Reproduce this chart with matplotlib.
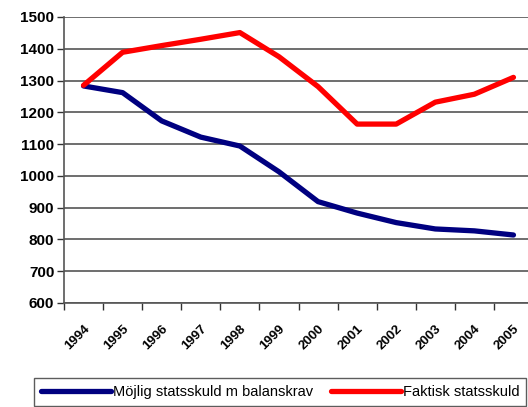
import matplotlib
matplotlib.use("Agg")
import matplotlib.pyplot as plt
from matplotlib.ticker import FixedLocator
import matplotlib.transforms as mtransforms

years = ["1994", "1995", "1996", "1997", "1998", "1999", "2000", "2001", "2002", "2003", "2004", "2005"]
mojlig = [1283, 1262, 1173, 1122, 1094, 1013, 919, 883, 853, 833, 827, 814]
faktisk = [1285, 1389, 1410, 1430, 1451, 1375, 1281, 1163, 1163, 1232, 1257, 1310]

plt.rcParams['font.family'] = ['Liberation Sans', 'DejaVu Sans']

fig = plt.figure(figsize=(5.28, 4.07), dpi=100)
ax = fig.add_axes([64/528, 1 - 303/407, (533 - 64)/528, (303 - 17)/407])

x = list(range(len(years)))
l1, = ax.plot(x, mojlig, color='#000080', lw=3.8, solid_joinstyle='round', solid_capstyle='round',
              label='Möjlig statsskuld m balanskrav', zorder=3)
l2, = ax.plot(x, faktisk, color='#ff0000', lw=3.8, solid_joinstyle='round', solid_capstyle='round',
              label='Faktisk statsskuld', zorder=3)

ax.set_xlim(-0.5, len(years) - 0.5)
ax.set_ylim(600, 1500)
ax.set_yticks(range(600, 1501, 100))
ax.yaxis.grid(True, color='#555555', lw=1.2)
ax.set_axisbelow(True)

ax.set_xticks(x)
ax.set_xticklabels(years, rotation=45, fontsize=9.5, fontweight='bold', ha='right', va='top',
                   rotation_mode='anchor')
offset = mtransforms.ScaledTranslation(-6/100, 0, fig.dpi_scale_trans)
for lab in ax.get_xticklabels():
    lab.set_transform(lab.get_transform() + offset)
ax.xaxis.set_minor_locator(FixedLocator([i - 0.5 for i in range(len(years) + 1)]))
ax.tick_params(axis='x', which='major', length=0, pad=14)
ax.tick_params(axis='x', which='minor', length=5, width=1, color='#333333', direction='out')
ax.tick_params(axis='y', length=5, width=1, color='#333333', direction='out', pad=2)
for lab in ax.get_yticklabels():
    lab.set_fontweight('bold')
    lab.set_fontsize(11)

for s in ['top', 'right']:
    ax.spines[s].set_visible(False)
ax.spines['left'].set_color('#555555')
ax.spines['bottom'].set_color('#555555')
ax.spines['left'].set_linewidth(1.2)
ax.spines['bottom'].set_linewidth(1.2)

leg = fig.legend(handles=[l1, l2], loc='center', bbox_to_anchor=(280/528, 1 - 392/407),
                 ncol=2, frameon=True, fancybox=False, fontsize=10.5, handlelength=4.8,
                 handletextpad=0.15, columnspacing=1.2, borderpad=0.45, edgecolor='#333333')
leg.get_frame().set_linewidth(1.0)

fig.savefig('out.png', dpi=100)
